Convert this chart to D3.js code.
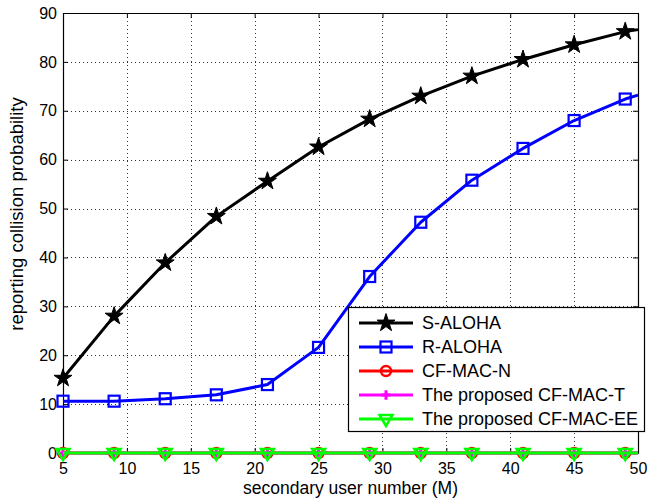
<!DOCTYPE html>
<html><head><meta charset="utf-8">
<script src="https://cdn.jsdelivr.net/npm/d3@7"></script>
<style>
html,body{margin:0;padding:0;background:#fff;}
svg{display:block;font-family:"Liberation Sans",Arial,sans-serif;}
</style></head>
<body>
<svg id="chart" width="661" height="500"></svg>
<script>
// ---- data ----
const xValues = [5, 9, 13, 17, 21, 25, 29, 33, 37, 41, 45, 49, 50];
const sAloha  = [15.3, 28.0, 38.9, 48.4, 55.6, 62.6, 68.3, 73.0, 77.1, 80.5, 83.5, 86.2, 86.6];
const rAloha  = [10.6, 10.6, 11.1, 11.9, 14.0, 21.6, 36.1, 47.2, 55.8, 62.3, 68.0, 72.4, 73.2];
const cfMacN  = [0, 0, 0, 0, 0, 0, 0, 0, 0, 0, 0, 0, 0];
const cfMacT  = [0, 0, 0, 0, 0, 0, 0, 0, 0, 0, 0, 0, 0];
const cfMacEE = [0, 0, 0, 0, 0, 0, 0, 0, 0, 0, 0, 0, 0];
const seriesNames = ["S-ALOHA", "R-ALOHA", "CF-MAC-N", "The proposed CF-MAC-T", "The proposed CF-MAC-EE"];
const xTicks = [5, 10, 15, 20, 25, 30, 35, 40, 45, 50];
const yTicks = [0, 10, 20, 30, 40, 50, 60, 70, 80, 90];
const xLabel = "secondary user number (M)";
const yLabel = "reporting collision probability";

// ---- layout ----
const svg = d3.select("#chart");
const L = 63, T = 13, R = 638, B = 453;
const x = d3.scaleLinear().domain([5, 50]).range([L, R]);
const y = d3.scaleLinear().domain([0, 90]).range([B, T]);

// grid
const grid = svg.append("g").attr("stroke", "#333").attr("stroke-width", 1).attr("stroke-dasharray", "1,3");
xTicks.filter(t => t > 5 && t < 50).forEach(t => {
  grid.append("line").attr("x1", Math.round(x(t)) + 0.5).attr("x2", Math.round(x(t)) + 0.5).attr("y1", T).attr("y2", B);
});
yTicks.filter(t => t > 0 && t < 90).forEach(t => {
  grid.append("line").attr("y1", Math.round(y(t)) + 0.5).attr("y2", Math.round(y(t)) + 0.5).attr("x1", L).attr("x2", R);
});

// axes
const fontTick = 16;
const axB = svg.append("g").attr("transform", `translate(0,${B})`)
  .call(d3.axisBottom(x).tickValues(xTicks).tickSizeInner(-5).tickSizeOuter(0).tickPadding(10));
const axL = svg.append("g").attr("transform", `translate(${L},0)`)
  .call(d3.axisLeft(y).tickValues(yTicks).tickSizeInner(-5).tickSizeOuter(0).tickPadding(6));
const axT = svg.append("g").attr("transform", `translate(0,${T})`)
  .call(d3.axisTop(x).tickValues(xTicks).tickSizeInner(-5).tickSizeOuter(0).tickFormat(""));
const axR = svg.append("g").attr("transform", `translate(${R},0)`)
  .call(d3.axisRight(y).tickValues(yTicks).tickSizeInner(-5).tickSizeOuter(0).tickFormat(""));
[axB, axL, axT, axR].forEach(a => {
  a.selectAll("text").attr("font-size", fontTick).attr("fill", "#000").attr("font-family", '"Liberation Sans",Arial,sans-serif');
  a.selectAll("line").attr("stroke", "#000");
  a.select(".domain").attr("stroke", "#000").attr("stroke-width", 1.2);
});

// series
const series = [
  {name: seriesNames[0], vals: sAloha, color: "#000000", marker: "star"},
  {name: seriesNames[1], vals: rAloha, color: "#0000ff", marker: "square"},
  {name: seriesNames[2], vals: cfMacN, color: "#ff0000", marker: "circle"},
  {name: seriesNames[3], vals: cfMacT, color: "#ff00ff", marker: "plus"},
  {name: seriesNames[4], vals: cfMacEE, color: "#00ff00", marker: "tri"}
];
const line = d3.line().x(d => x(d[0])).y(d => y(d[1]));
const markerIdx = d => d[0] < 50;

function drawMarker(g, type, color, cx, cy) {
  if (type === "star") {
    g.append("path").attr("d", d3.symbol().type(d3.symbolStar).size(100)())
      .attr("transform", `translate(${cx},${cy})`).attr("fill", "#000").attr("stroke", "#000").attr("stroke-width", 1);
  } else if (type === "square") {
    g.append("rect").attr("x", cx - 5.5).attr("y", cy - 5.5).attr("width", 11).attr("height", 11)
      .attr("fill", "none").attr("stroke", color).attr("stroke-width", 2.2);
  } else if (type === "circle") {
    g.append("circle").attr("cx", cx).attr("cy", cy).attr("r", 5)
      .attr("fill", "none").attr("stroke", color).attr("stroke-width", 2.5);
  } else if (type === "plus") {
    g.append("path").attr("d", d3.symbol().type(d3.symbolPlus).size(30)())
      .attr("transform", `translate(${cx},${cy})`).attr("fill", "none").attr("stroke", color).attr("stroke-width", 3);
  } else if (type === "tri") {
    g.append("path").attr("d", `M${cx - 6.5},${cy - 4} L${cx + 6.5},${cy - 4} L${cx},${cy + 7} Z`)
      .attr("fill", "none").attr("stroke", color).attr("stroke-width", 2.5).attr("stroke-linejoin", "miter");
  }
}

series.forEach(s => {
  const pts = xValues.map((xv, i) => [xv, s.vals[i]]);
  const g = svg.append("g");
  g.append("path").attr("d", line(pts)).attr("fill", "none").attr("stroke", s.color)
    .attr("stroke-width", 3).attr("stroke-linejoin", "round");
  pts.filter(markerIdx).forEach(p => drawMarker(g, s.marker, s.color, x(p[0]), y(p[1])));
});

// axis labels
svg.append("text").attr("x", (L + R) / 2).attr("y", 494).attr("text-anchor", "middle")
  .attr("font-size", 17.5).text(xLabel);
svg.append("text").attr("transform", `translate(23,${(T + B) / 2 - 19}) rotate(-90)`).attr("text-anchor", "middle")
  .attr("font-size", 18.5).text(yLabel);

// legend
const lg = svg.append("g");
lg.append("rect").attr("x", 348.5).attr("y", 307.5).attr("width", 296).attr("height", 124)
  .attr("fill", "#fff").attr("stroke", "#000").attr("stroke-width", 1.2);
series.forEach((s, i) => {
  const cy = 323 + i * 24;
  lg.append("line").attr("x1", 359).attr("x2", 413).attr("y1", cy).attr("y2", cy)
    .attr("stroke", s.color).attr("stroke-width", 3);
  drawMarker(lg, s.marker, s.color, 386, cy);
  lg.append("text").attr("x", 422).attr("y", cy + 6).attr("font-size", 18).text(s.name);
});
</script>
</body></html>
